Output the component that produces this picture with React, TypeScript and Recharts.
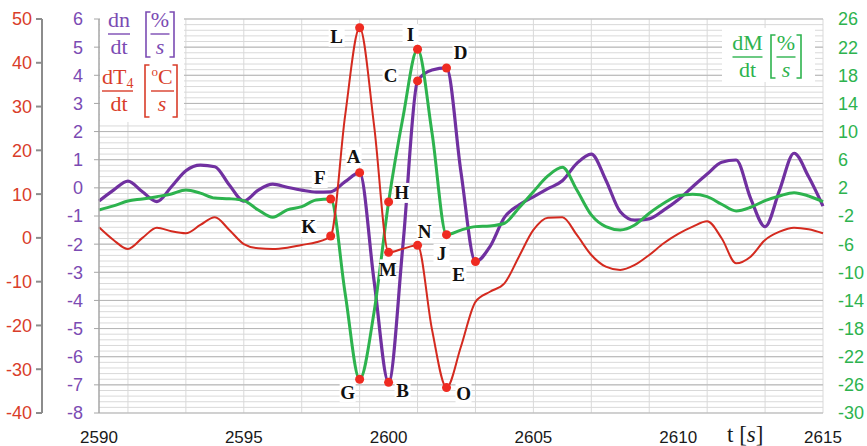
import React from 'react';
import { LineChart, Line, XAxis, YAxis, CartesianGrid } from 'recharts';

// time axis, seconds (half-second readings)
const times = [
  2590, 2590.5, 2591, 2591.5, 2592, 2592.5, 2593, 2593.5, 2594, 2594.5,
  2595, 2595.5, 2596, 2596.5, 2597, 2597.5, 2598, 2598.5, 2599, 2599.5,
  2600, 2600.5, 2601, 2601.5, 2602, 2602.5, 2603, 2603.5, 2604, 2604.5,
  2605, 2605.5, 2606, 2606.5, 2607, 2607.5, 2608, 2608.5, 2609, 2609.5,
  2610, 2610.5, 2611, 2611.5, 2612, 2612.5, 2613, 2613.5, 2614, 2614.5,
  2615,
];

// dn/dt [%/s]
const dnValues = [
  -0.47, -0.08, 0.24, -0.14, -0.49, 0.04, 0.61, 0.81, 0.75, 0.1,
  -0.47, -0.08, 0.13, 0.02, -0.08, -0.15, -0.14, 0.22, 0.54, -3.32,
  -6.91, -1.97, 3.8, 4.19, 4.26, 0.55, -2.62, -2.09, -1.05, -0.61,
  -0.32, -0.03, 0.25, 0.87, 1.2, 0.28, -0.85, -1.15, -1.1, -0.79,
  -0.42, 0.04, 0.49, 0.91, 0.99, -0.37, -1.38, -0.08, 1.23, 0.4,
  -0.65,
];

// dM/dt [%/s]
const dMValues = [
  -1.14, -0.57, 0.14, 0.42, 0.75, 1.13, 1.7, 1.25, 0.55, 0.46,
  0.18, -1.14, -2.18, -1.14, -0.67, 0.28, 0.42, -13, -25.2, -15.6,
  0, 12.1, 21.7, 9.8, -4.65, -4.0, -3.51, -3.42, -3.03, -0.85,
  1.46, 3.69, 4.93, 1.7, -1.85, -3.51, -3.98, -3.27, -1.61, -0.19,
  0.87, 1.09, 0.75, -0.33, -1.28, -0.76, 0.18, 0.85, 1.32, 0.85,
  0.04,
];

// dT4/dt [°C/s]
const dT4Values = [
  2.42, -0.48, -2.53, 0, 2.33, 1.5, 1.05, 2.95, 4.71, 1.81,
  -1.4, -2.37, -2.53, -2.23, -1.6, -1.0, 0.44, 28, 48, 25.6,
  -3.3, -2.46, -1.7, -21, -34.2, -24.8, -14.6, -12.3, -10.4, -4.29,
  1.81, 4.62, 4.71, 0.67, -3.9, -6.57, -7.33, -6.19, -3.9, -1.23,
  0.9, 2.56, 3.79, -0.09, -5.8, -4.29, -0.48, 1.42, 2.33, 1.97,
  1.05,
];

const xTicks = [2590, 2595, 2600, 2605, 2610, 2615];
const dnTicks = [-8, -7, -6, -5, -4, -3, -2, -1, 0, 1, 2, 3, 4, 5, 6];
const dT4Ticks = [-40, -30, -20, -10, 0, 10, 20, 30, 40, 50];
const dMTicks = [-30, -26, -22, -18, -14, -10, -6, -2, 2, 6, 10, 14, 18, 22, 26];

// marked points
const dnMarkTimes = [2599, 2600, 2601, 2602, 2603];
const dnMarkNames = ['A', 'B', 'C', 'D', 'E'];
const dMMarkTimes = [2598, 2599, 2600, 2601, 2602];
const dMMarkNames = ['F', 'G', 'H', 'I', 'J'];
const dT4MarkTimes = [2598, 2599, 2600, 2601, 2602];
const dT4MarkNames = ['K', 'L', 'M', 'N', 'O'];

const data = times.map((t, i) => ({ t, dn: dnValues[i], dM: dMValues[i], dT4: dT4Values[i] }));

// grid rows (in dn units) and columns (every second)
const minorRows = Array.from({ length: 71 }, (_, i) => -8 + i * 0.2);
const gridCols = Array.from({ length: 26 }, (_, i) => 2590 + i);

// axis ids: inner left (dn), outer left (dT4), right (dM)
const AX_DN = 'a1';
const AX_T4 = 'a2';
const AX_M = 'a3';

const PURPLE = '#7030a0';
const PURPLE_TXT = '#7b4bb3';
const GREEN = '#2db34e';
const RED = '#d42a1f';
const RED_TXT = '#d93d2a';
const MARK = '#ef2b21';
const SANS = "'Liberation Sans', Arial, sans-serif";
const SERIF = "'Liberation Serif', 'DejaVu Serif', serif";

const LABEL_OFFSET: Record<string, [number, number]> = {
  A: [-6, -16], B: [14, 8], C: [-27, -5], D: [14, -15], E: [-17, 13],
  F: [-11, -21], G: [-12, 13], H: [13, -9], I: [-7, -15], J: [-5, 19],
  K: [-22, -9], L: [-23, 9], M: [-1, 17], N: [7, -14], O: [17, 6],
};

function markRenderer(markTimes: number[], names: string[]) {
  return (props: any) => {
    const { cx, cy, payload, index } = props;
    const i = markTimes.indexOf(payload?.t);
    if (i < 0 || cx == null || cy == null) return <g key={`n-${index}`} />;
    const name = names[i];
    const [dx, dy] = LABEL_OFFSET[name];
    return (
      <g key={`m-${index}`}>
        <rect x={cx + dx - 8} y={cy + dy - 10} width={16} height={20} fill="#fff" />
        <text x={cx + dx} y={cy + dy + 6.5} textAnchor="middle" fontFamily={SERIF} fontWeight="bold" fontSize={19} fill="#111">
          {name}
        </text>
        <circle cx={cx} cy={cy} r={4.5} fill={MARK} />
      </g>
    );
  };
}

function Bracket({ x, y1, y2, dir, color }: { x: number; y1: number; y2: number; dir: number; color: string }) {
  const w = 4.5 * dir;
  return <path d={`M${x + w},${y1} H${x} V${y2} H${x + w}`} fill="none" stroke={color} strokeWidth={1.6} />;
}

function Frac({ cx, barY, barW, num, den, color, numY, denY }: any) {
  return (
    <g fill={color} fontFamily={SERIF} fontSize={22}>
      <text x={cx} y={numY} textAnchor="middle">{num}</text>
      <line x1={cx - barW / 2} x2={cx + barW / 2} y1={barY} y2={barY} stroke={color} strokeWidth={1.4} />
      <text x={cx} y={denY} textAnchor="middle">{den}</text>
    </g>
  );
}

export default function App() {
  return (
    <div style={{ position: 'absolute', left: 0, top: 0, width: 867, height: 446, background: '#fff' }}>
      <LineChart width={867} height={446} data={data} margin={{ top: 19, right: 0, bottom: 0, left: 0 }}>
        <CartesianGrid yAxisId={AX_DN} horizontalValues={minorRows} verticalValues={gridCols} stroke="#d9d9d9" strokeWidth={1} />
        <CartesianGrid yAxisId={AX_DN} horizontalValues={dnTicks} vertical={false} stroke="#b5b5b5" strokeWidth={1} />
        <XAxis
          dataKey="t"
          type="number"
          domain={[2590, 2615]}
          ticks={xTicks}
          height={33}
          axisLine={false}
          tickLine={false}
          tickMargin={12}
          tick={{ fill: '#1a1a1a', fontSize: 17, fontFamily: SANS }}
        />
        <YAxis
          yAxisId={AX_DN}
          orientation="left"
          width={57}
          domain={[-8, 6]}
          ticks={dnTicks}
          interval={0}
          axisLine={{ stroke: '#a6a6a6', strokeWidth: 1.5 }}
          tickLine={{ stroke: '#a6a6a6' }}
          tickSize={5}
          tickMargin={11}
          tick={{ fill: PURPLE_TXT, fontSize: 18, fontFamily: SANS }}
        />
        <YAxis
          yAxisId={AX_T4}
          orientation="left"
          width={42}
          domain={[-40, 50]}
          ticks={dT4Ticks}
          interval={0}
          axisLine={{ stroke: '#8c8c8c', strokeWidth: 2 }}
          tickLine={{ stroke: '#8c8c8c', strokeWidth: 2 }}
          tickSize={6}
          tickMargin={4}
          tick={{ fill: RED_TXT, fontSize: 18, fontFamily: SANS }}
        />
        <YAxis
          yAxisId={AX_M}
          orientation="right"
          width={44}
          domain={[-30, 26]}
          ticks={dMTicks}
          interval={0}
          axisLine={false}
          tickLine={false}
          tickSize={6}
          tickMargin={9}
          tick={{ fill: GREEN, fontSize: 18, fontFamily: SANS, textAnchor: 'start' }}
        />
        <Line yAxisId={AX_DN} dataKey="dn" type="monotone" stroke={PURPLE} strokeWidth={3.2} dot={false} activeDot={false} isAnimationActive={false} />
        <Line yAxisId={AX_M} dataKey="dM" type="monotone" stroke={GREEN} strokeWidth={3} dot={false} activeDot={false} isAnimationActive={false} />
        <Line yAxisId={AX_T4} dataKey="dT4" type="monotone" stroke={RED} strokeWidth={2} dot={false} activeDot={false} isAnimationActive={false} />
        <Line yAxisId={AX_DN} dataKey="dn" stroke="none" dot={markRenderer(dnMarkTimes, dnMarkNames)} activeDot={false} isAnimationActive={false} />
        <Line yAxisId={AX_M} dataKey="dM" stroke="none" dot={markRenderer(dMMarkTimes, dMMarkNames)} activeDot={false} isAnimationActive={false} />
        <Line yAxisId={AX_T4} dataKey="dT4" stroke="none" dot={markRenderer(dT4MarkTimes, dT4MarkNames)} activeDot={false} isAnimationActive={false} />
      </LineChart>
      <svg width={867} height={446} style={{ position: 'absolute', left: 0, top: 0, pointerEvents: 'none' }}>
        {/* left legend box */}
        <rect x={100} y={18} width={84} height={104} fill="#fff" />
        <rect x={100} y={4} width={84} height={16} fill="#fff" />
        <Frac cx={119} barY={34} barW={22} num="dn" den="dt" color={PURPLE_TXT} numY={27} denY={54} />
        <Bracket x={146} y1={12} y2={57} dir={1} color={PURPLE_TXT} />
        <Frac cx={160} barY={34} barW={19} num="%" den={<tspan fontStyle="italic">s</tspan>} color={PURPLE_TXT} numY={27} denY={54} />
        <Bracket x={174} y1={12} y2={57} dir={-1} color={PURPLE_TXT} />

        <g fill={RED_TXT} fontFamily={SERIF} fontSize={22}>
          <text x={102} y={84}>dT<tspan fontSize={14} dy={4}>4</tspan></text>
          <line x1={102} x2={133} y1={91} y2={91} stroke={RED_TXT} strokeWidth={1.4} />
          <text x={119} y={111} textAnchor="middle">dt</text>
          <text x={162} y={84} textAnchor="middle"><tspan fontSize={13} dy={-8}>o</tspan><tspan dy={8}>C</tspan></text>
          <line x1={151} x2={174} y1={91} y2={91} stroke={RED_TXT} strokeWidth={1.4} />
          <text x={162} y={111} textAnchor="middle" fontStyle="italic">s</text>
        </g>
        <Bracket x={145} y1={65} y2={117} dir={1} color={RED_TXT} />
        <Bracket x={177} y1={65} y2={117} dir={-1} color={RED_TXT} />

        {/* right legend box */}
        <rect x={722} y={28} width={93} height={54} fill="#fff" />
        <Frac cx={747.5} barY={57} barW={30} num="dM" den="dt" color={GREEN} numY={50} denY={77} />
        <Bracket x={771} y1={35} y2={78} dir={1} color={GREEN} />
        <Frac cx={786} barY={57} barW={19} num="%" den={<tspan fontStyle="italic">s</tspan>} color={GREEN} numY={50} denY={77} />
        <Bracket x={801} y1={35} y2={78} dir={-1} color={GREEN} />

        {/* x axis title */}
        <text x={727} y={442} fontFamily={SERIF} fontSize={23} fill="#1a1a1a">
          t [<tspan fontStyle="italic">s</tspan>]
        </text>
      </svg>
    </div>
  );
}
